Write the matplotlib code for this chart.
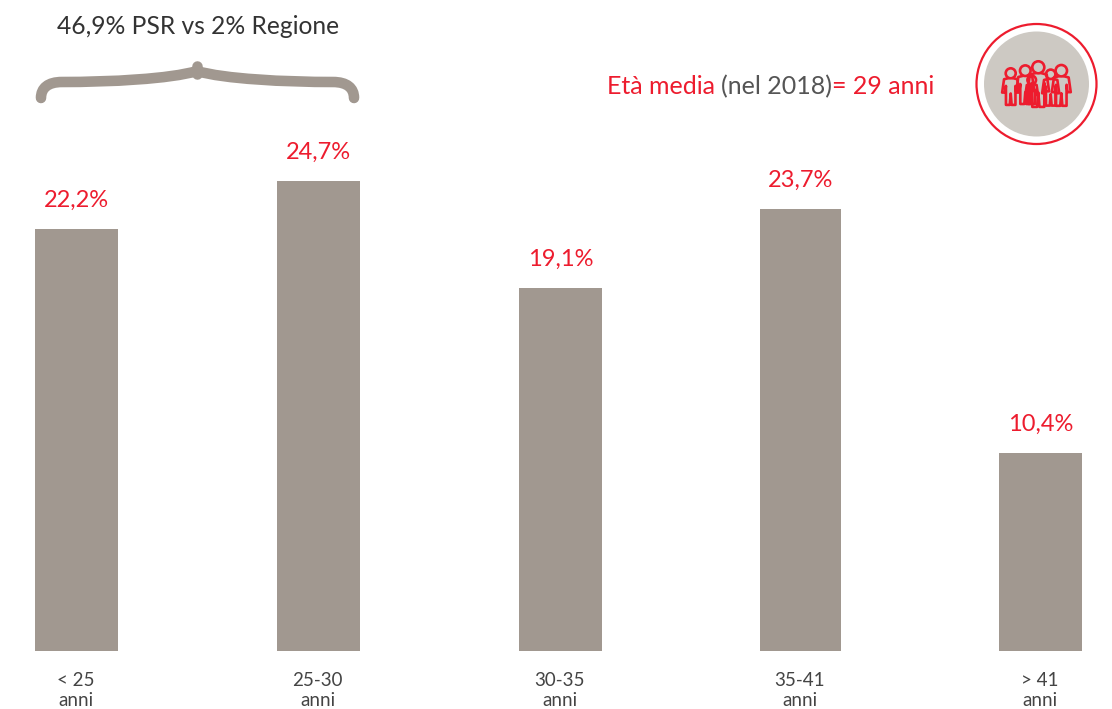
import matplotlib
matplotlib.use('Agg')
import matplotlib.pyplot as plt
from matplotlib.patches import Circle, PathPatch
from matplotlib.path import Path

plt.rcParams['font.family'] = ['Lato', 'DejaVu Sans']

categories = ['< 25\nanni', '25-30\nanni', '30-35\nanni', '35-41\nanni', '> 41\nanni']
# bar heights as drawn in the picture (the 35-41 bar is a bit shorter than its label)
heights = [22.2, 24.7, 19.1, 23.25, 10.4]
labels = ['22,2%', '24,7%', '19,1%', '23,7%', '10,4%']
centers = [76.5, 318.5, 560.5, 800.5, 1040.5]
widths = [83, 83, 83, 81, 83]

GREY = '#A19890'
RED = '#ED1C2E'
DARK = '#333333'

fig = plt.figure(figsize=(11.12, 7.09), dpi=100)
ax = fig.add_axes([0, 0, 1, 1])
ax.set_xlim(0, 1112)
ax.set_ylim(-58 / 19.03, 651 / 19.03)
ax.axis('off')

ax.bar(centers, heights, width=widths, color=GREY)
for c, h, l in zip(centers, heights, labels):
    ax.annotate(l, (c, h), xytext=(0, 18), textcoords='offset pixels', ha='center',
                va='bottom', color=RED, fontsize=17)
for c, l in zip(centers, categories):
    ax.annotate(l, (c, 0), xytext=(-1, -21), textcoords='offset pixels', ha='center',
                va='top', color='#444444', fontsize=13.5, linespacing=1.2)

# overlay in pixel coordinates for the brace, texts and the icon
ov = fig.add_axes([0, 0, 1, 1])
ov.set_xlim(0, 1112)
ov.set_ylim(709, 0)
ov.axis('off')
ov.patch.set_alpha(0)

ov.text(198, 26, '46,9% PSR vs 2% Regione', ha='center', va='center', color=DARK, fontsize=17.7)

# brace
verts = [(41, 98), (41, 88), (48, 82), (62, 82),
         (110, 82), (170, 79), (197, 71),
         (224, 79), (285, 82), (333, 82),
         (347, 82), (354, 88), (354, 98)]
codes = [Path.MOVETO] + [Path.CURVE4] * 12
ov.add_patch(PathPatch(Path(verts, codes), fill=False, ec=GREY, lw=7.6, capstyle='round', joinstyle='round'))
ov.plot([197, 197], [74, 66], color=GREY, lw=7.6, solid_capstyle='round')

# title on the right, three colours
y = 87
t1 = ov.text(607, y, 'Età media ', color=RED, fontsize=18, va='center')
fig.canvas.draw()
r = fig.canvas.get_renderer()
x = ov.transData.inverted().transform(t1.get_window_extent(r))[1, 0]
t2 = ov.text(x, y, '(nel 2018)', color='#555555', fontsize=18, va='center')
x = ov.transData.inverted().transform(t2.get_window_extent(r))[1, 0]
ov.text(x, y, '= 29 anni', color=RED, fontsize=18, va='center')

# icon
cx, cy = 1036.5, 84
ov.add_patch(Circle((cx, cy), 60, fc='white', ec=RED, lw=1.6))
ov.add_patch(Circle((cx, cy), 52.5, fc='#CDC9C3', ec='none'))


def person(hx, hy, r, s):
    ov.add_patch(Circle((hx, hy), r, fc='none', ec=RED, lw=1.9))
    top = hy + r
    px = [-3, -7, -9, -6, -5, -5, -1, 0, 1, 5, 5, 6, 9, 7, 3]
    py = [0, 1, 15, 15, 8, 28, 28, 16, 28, 28, 8, 15, 15, 1, 0]
    ov.plot([hx + s * a for a in px], [top + s * b for b in py], color=RED, lw=1.9,
            solid_joinstyle='round')


person(1010.7, 73.3, 5, 0.95)
person(1025.3, 70.7, 5.3, 1.0)
person(1038.3, 67.3, 6, 1.2)
person(1050.7, 74.3, 4.7, 0.95)
person(1061.3, 70.7, 5.7, 1.05)
person(1031.7, 80, 4.3, 0.7)

fig.savefig('out.png', dpi=100)
